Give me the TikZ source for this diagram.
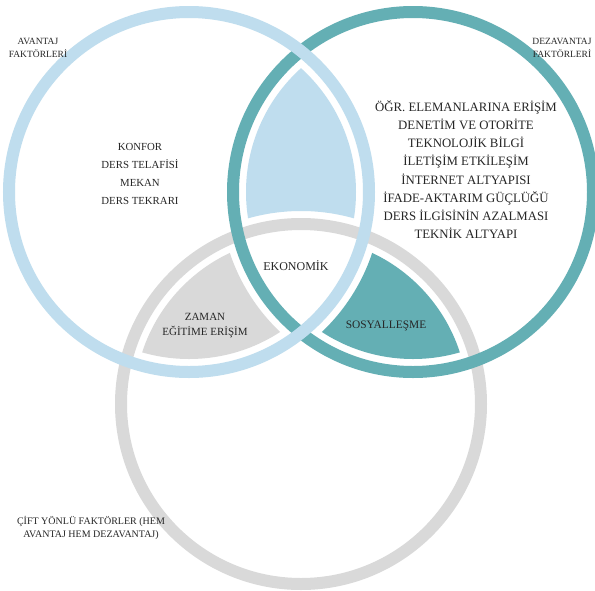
\documentclass[tikz,border=0pt]{standalone}
\usepackage{fontspec}
\setmainfont{Liberation Serif}
\definecolor{lblue}{HTML}{BFDDEE}
\definecolor{tealc}{HTML}{64AFB4}
\definecolor{gry}{HTML}{D9D9D9}
\definecolor{txt}{HTML}{262626}
\tikzset{
  ring/.style={line width=12pt},
  smalllab/.style={text=txt, align=center, font=\fontsize{9.5}{13}\selectfont, inner sep=0pt},
  listlab/.style={text=txt, align=center, font=\fontsize{10.8}{18}\selectfont, inner sep=0pt},
  biglist/.style={text=txt, align=center, font=\fontsize{12.8}{18.2}\selectfont, inner sep=0pt},
  innerlab/.style={text=txt, align=center, font=\fontsize{11}{15}\selectfont, inner sep=0pt}
}
\begin{document}
\begin{tikzpicture}[x=1pt,y=-1pt]
\useasboundingbox (0,0) rectangle (595,590);
\fill[white] (0,0) rectangle (595,590);
\coordinate (B) at (189,192);
\coordinate (T) at (413,192);
\coordinate (G) at (301,404);
% top lens: blue and teal, outside gray
\begin{scope}
  \clip (B) circle (167pt);
  \clip (T) circle (167pt);
  \fill[lblue, even odd rule] (0,0) rectangle (595,590) (G) circle (193pt);
\end{scope}
% left lens: blue and gray, outside teal
\begin{scope}
  \clip (B) circle (167pt);
  \clip (G) circle (167pt);
  \fill[gry, even odd rule] (0,0) rectangle (595,590) (T) circle (193pt);
\end{scope}
% right lens: teal and gray, outside blue
\begin{scope}
  \clip (T) circle (167pt);
  \clip (G) circle (167pt);
  \fill[tealc, even odd rule] (0,0) rectangle (595,590) (B) circle (193pt);
\end{scope}
% rings
\draw[ring, gry] (G) circle (180pt);
\draw[ring, tealc] (T) circle (180pt);
\draw[ring, lblue] (B) circle (180pt);
% labels
\node[smalllab] (av) at (38,48) {AVANTAJ\\FAKTÖRLERİ};
\node[smalllab] (dz) at (562,48) {DEZAVANTAJ\\FAKTÖRLERİ};
\node[listlab] (left) at (140,174) {KONFOR\\DERS TELAFİSİ\\MEKAN\\DERS TEKRARI};
\node[biglist] (right) at (466,169.5) {ÖĞR. ELEMANLARINA ERİŞİM\\DENETİM VE OTORİTE\\TEKNOLOJİK BİLGİ\\İLETİŞİM ETKİLEŞİM\\İNTERNET ALTYAPISI\\İFADE-AKTARIM GÜÇLÜĞÜ\\DERS İLGİSİNİN AZALMASI\\TEKNİK ALTYAPI};
\node[innerlab, font=\fontsize{12}{15}\selectfont] (eko) at (296,266) {EKONOMİK};
\node[innerlab] (zam) at (205,326) {ZAMAN\\EĞİTİME ERİŞİM};
\node[innerlab, font=\fontsize{11.4}{15}\selectfont] (sos) at (386,326) {SOSYALLEŞME};
\node[smalllab, font=\fontsize{10}{13.5}\selectfont] (cift) at (91,528) {ÇİFT YÖNLÜ FAKTÖRLER (HEM\\AVANTAJ HEM DEZAVANTAJ)};
\end{tikzpicture}
\end{document}
